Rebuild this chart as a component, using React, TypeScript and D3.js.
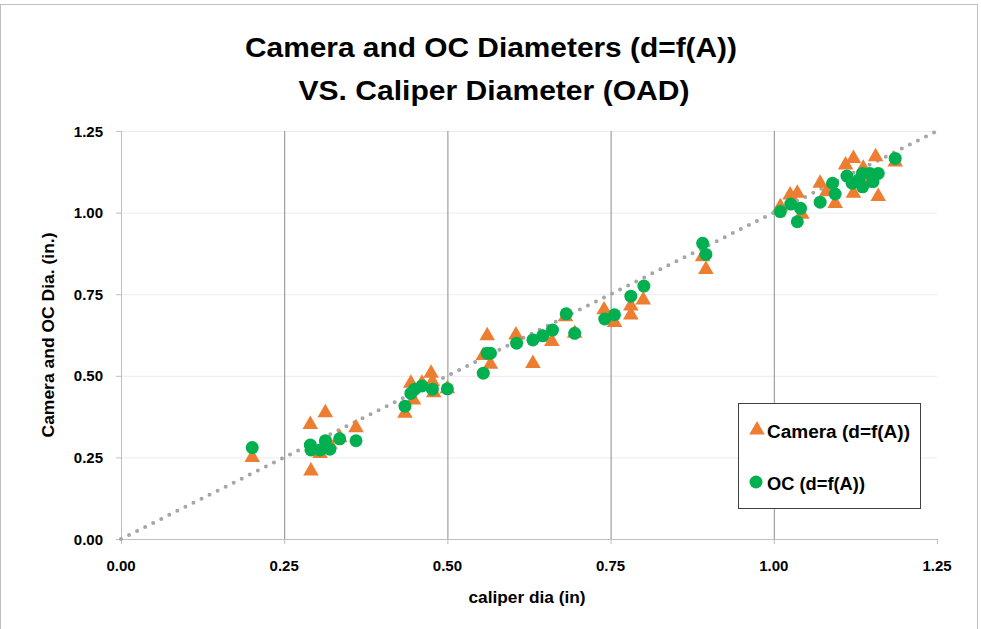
import React from 'react';
import * as d3 from 'd3';

const cameraX = [0.201, 0.29, 0.291, 0.305, 0.313, 0.32, 0.335, 0.36, 0.435, 0.444, 0.448, 0.461, 0.475, 0.477, 0.479, 0.5,
  0.555, 0.561, 0.566, 0.605, 0.631, 0.646, 0.66, 0.681, 0.695, 0.74, 0.756, 0.781, 0.781, 0.8, 0.891, 0.896,
  1.01, 1.025, 1.036, 1.043, 1.071, 1.081, 1.094, 1.11, 1.122, 1.122, 1.137, 1.139, 1.156, 1.16, 1.186];
const cameraY = [0.25, 0.351, 0.208, 0.262, 0.387, 0.29, 0.31, 0.341, 0.385, 0.477, 0.426, 0.477, 0.508, 0.482, 0.448, 0.46,
  0.562, 0.623, 0.535, 0.625, 0.538, 0.618, 0.605, 0.681, 0.63, 0.702, 0.663, 0.686, 0.714, 0.732, 0.865, 0.826,
  1.018, 1.054, 1.059, 0.995, 1.09, 1.064, 1.028, 1.146, 1.166, 1.059, 1.136, 1.09, 1.171, 1.049, 1.155];

const ocX = [0.201, 0.29, 0.291, 0.305, 0.313, 0.32, 0.335, 0.36, 0.435, 0.444, 0.45, 0.461, 0.477, 0.5,
  0.555, 0.561, 0.566, 0.606, 0.631, 0.646, 0.661, 0.682, 0.695, 0.741, 0.756, 0.781, 0.801, 0.891, 0.896,
  1.01, 1.026, 1.036, 1.041, 1.071, 1.09, 1.094, 1.112, 1.12, 1.13, 1.136, 1.136, 1.147, 1.152, 1.16, 1.186];
const ocY = [0.28, 0.288, 0.273, 0.273, 0.301, 0.275, 0.307, 0.301, 0.407, 0.446, 0.459, 0.469, 0.459, 0.46,
  0.508, 0.569, 0.569, 0.6, 0.61, 0.623, 0.64, 0.69, 0.63, 0.674, 0.687, 0.744, 0.775, 0.906, 0.872,
  1.003, 1.026, 0.972, 1.013, 1.032, 1.09, 1.057, 1.112, 1.09, 1.1, 1.12, 1.079, 1.12, 1.095, 1.12, 1.166];

const ticks = [0, 0.25, 0.5, 0.75, 1.0, 1.25];

const W = 981;
const H = 629;
const margin = { top: 131, right: 44, bottom: 90, left: 121 };
const FONT = '"Liberation Sans", Arial, sans-serif';
const ORANGE = '#ED7D31';
const GREEN = '#00B050';

const App = () => {
  const x = d3.scaleLinear().domain([0, 1.25]).range([margin.left, W - margin.right]);
  const y = d3.scaleLinear().domain([0, 1.25]).range([H - margin.bottom, margin.top]);

  const tri = d3.symbol().type(d3.symbolTriangle).size(105)();
  const diag = d3.line<number>().x((d) => x(d)).y((d) => y(d))([0, 1.25]);

  const camera = cameraX.map((v, i) => [v, cameraY[i]]);
  const oc = ocX.map((v, i) => [v, ocY[i]]);

  const x0 = x(0), x1 = x(1.25), y0 = y(0), y1 = y(1.25);

  return (
    <svg width={W} height={H} style={{ position: 'absolute', left: 0, top: 0, background: '#fff' }} fontFamily={FONT}>
      <rect x={0.5} y={4.5} width={W - 4} height={H} fill="#fff" stroke="#bfbfbf" />

      <text x={491} y={57} textAnchor="middle" fontSize={28} fontWeight="bold" textLength={492} lengthAdjust="spacingAndGlyphs">
        Camera and OC Diameters (d=f(A))
      </text>
      <text x={494} y={100} textAnchor="middle" fontSize={28} fontWeight="bold" textLength={391} lengthAdjust="spacingAndGlyphs">
        VS. Caliper Diameter (OAD)
      </text>

      {/* horizontal gridlines */}
      {ticks.slice(1).map((t) => (
        <line key={'h' + t} x1={x0} x2={x1} y1={y(t) + 0.5} y2={y(t) + 0.5} stroke="#ececec" />
      ))}
      {/* vertical gridlines */}
      {ticks.slice(1, 5).map((t) => (
        <line key={'v' + t} x1={x(t) + 0.5} x2={x(t) + 0.5} y1={y1} y2={y0} stroke="#8c8c8c" />
      ))}

      {/* axes */}
      <line x1={x0 + 0.5} x2={x0 + 0.5} y1={y1} y2={y0} stroke="#bfbfbf" />
      <line x1={x0} x2={x1} y1={y0 + 0.5} y2={y0 + 0.5} stroke="#bfbfbf" />
      {ticks.map((t) => (
        <g key={'xt' + t}>
          <line x1={x(t) + 0.5} x2={x(t) + 0.5} y1={y0} y2={y0 + 5} stroke="#bfbfbf" />
          <text x={x(t)} y={y0 + 32} textAnchor="middle" fontSize={15} fontWeight="bold">{t.toFixed(2)}</text>
        </g>
      ))}
      {ticks.map((t) => (
        <g key={'yt' + t}>
          <line x1={x0 - 5} x2={x0} y1={y(t) + 0.5} y2={y(t) + 0.5} stroke="#bfbfbf" />
          <text x={x0 - 18} y={y(t) + 5.5} textAnchor="end" fontSize={15} fontWeight="bold">{t.toFixed(2)}</text>
        </g>
      ))}

      <text x={527} y={603} textAnchor="middle" fontSize={16} fontWeight="bold" textLength={117} lengthAdjust="spacingAndGlyphs">caliper dia (in)</text>
      <text transform={`translate(54,335) rotate(-90)`} textAnchor="middle" fontSize={16} fontWeight="bold" textLength={205} lengthAdjust="spacingAndGlyphs">
        Camera and OC Dia. (in.)
      </text>

      <path d={diag ?? ''} stroke="#a6a6a6" strokeWidth={4} strokeDasharray="0 9" strokeLinecap="round" fill="none" />

      {camera.map(([cx, cy], i) => (
        <path key={'c' + i} d={tri ?? ''} transform={`translate(${x(cx)},${y(cy)})`} fill={ORANGE} />
      ))}
      {oc.map(([cx, cy], i) => (
        <circle key={'o' + i} cx={x(cx)} cy={y(cy)} r={6.5} fill={GREEN} />
      ))}

      {/* legend */}
      <rect x={738.5} y={403.5} width={182} height={105} fill="#fff" stroke="#404040" />
      <path d={tri ?? ''} transform="translate(757,430)" fill={ORANGE} />
      <text x={767} y={438} fontSize={18} fontWeight="bold" textLength={143} lengthAdjust="spacingAndGlyphs">Camera (d=f(A))</text>
      <circle cx={756} cy={482} r={6.5} fill={GREEN} />
      <text x={767} y={490} fontSize={18} fontWeight="bold" textLength={98} lengthAdjust="spacingAndGlyphs">OC (d=f(A))</text>
    </svg>
  );
};

export default App;
